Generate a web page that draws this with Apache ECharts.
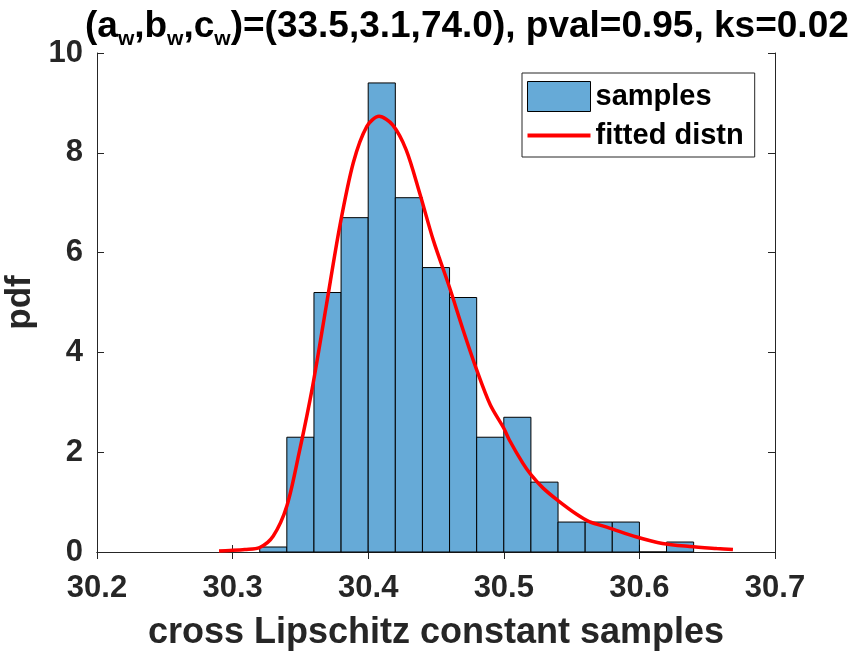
<!DOCTYPE html>
<html>
<head>
<meta charset="utf-8">
<script src="https://cdn.jsdelivr.net/npm/echarts@6/dist/echarts.min.js"></script>
<style>
html, body { margin: 0; padding: 0; background: #fff; }
#main { width: 850px; height: 653px; }
</style>
</head>
<body>
<div id="main"></div>
<script>
// histogram bins (edges) and pdf heights
var binEdges = [30.32, 30.34, 30.36, 30.38, 30.40, 30.42, 30.44, 30.46, 30.48,
	30.50, 30.52, 30.54, 30.56, 30.58, 30.60, 30.62, 30.64];
var binHeights = [0.1, 2.3, 5.2, 6.7, 9.4, 7.1, 5.7, 5.1, 2.3, 2.7, 1.4, 0.6, 0.6, 0.6, 0, 0.2];

// fitted curve
var fitX = [30.290, 30.298, 30.309, 30.320, 30.330, 30.340, 30.349, 30.359, 30.369, 30.379,
	30.389, 30.399, 30.408, 30.418, 30.428, 30.438, 30.448, 30.460, 30.470, 30.480,
	30.490, 30.500, 30.504, 30.514, 30.520, 30.529, 30.540, 30.554, 30.563, 30.578,
	30.598, 30.617, 30.637, 30.657, 30.669];
var fitY = [0.02, 0.03, 0.05, 0.09, 0.32, 0.92, 1.98, 3.32, 4.92, 6.52,
	7.80, 8.53, 8.73, 8.56, 8.06, 7.19, 6.25, 5.30, 4.45, 3.65,
	2.95, 2.48, 2.25, 1.78, 1.55, 1.28, 1.03, 0.75, 0.61, 0.48,
	0.30, 0.17, 0.11, 0.07, 0.05];

var titleText = '(a{s|w},b{s|w},c{s|w})=(33.5,3.1,74.0), pval=0.95, ks=0.02';
var xName = 'cross Lipschitz constant samples';
var yName = 'pdf';

var FONT = "'Liberation Sans', Arial, Helvetica, sans-serif";
var AX = '#262626';

var chart = echarts.init(document.getElementById('main'));

var bars = [];
for (var i = 0; i < binHeights.length; i++) {
	bars.push([binEdges[i], binEdges[i + 1], binHeights[i]]);
}
var curve = [];
for (var j = 0; j < fitX.length; j++) {
	curve.push([fitX[j], fitY[j]]);
}

var tickLabel = { fontSize: 31, fontWeight: 'bold', color: AX, fontFamily: FONT };

var option = {
	animation: false,
	backgroundColor: '#fff',
	title: {
		text: titleText,
		left: 80,
		top: 3,
		textStyle: {
			fontSize: 37,
			fontWeight: 'bold',
			color: '#000',
			fontFamily: FONT,
			rich: {
				s: { fontSize: 21, fontWeight: 'bold', color: '#000', fontFamily: FONT, verticalAlign: 'bottom', padding: [0, 0, -5, 0] }
			}
		}
	},
	legend: {
		orient: 'vertical',
		left: 522,
		top: 73,
		padding: [8, 11, 7, 5],
		itemGap: 9,
		itemWidth: 63,
		itemHeight: 30,
		borderColor: AX,
		borderWidth: 1,
		backgroundColor: '#fff',
		textStyle: { fontSize: 29, fontWeight: 'bold', color: '#000', fontFamily: FONT },
		data: [
			{ name: 'samples', icon: 'rect', itemStyle: { borderWidth: 1, borderColor: '#000' } },
			{ name: 'fitted distn', icon: 'path://M0,0H63V4H0Z', itemStyle: { color: '#ff0000' } }
		]
	},
	grid: { left: 97, right: 75, top: 53, bottom: 101, containLabel: false, outerBoundsMode: 'none' },
	xAxis: [{
		type: 'value',
		min: 30.2,
		max: 30.7,
		interval: 0.1,
		position: 'bottom',
		name: xName,
		nameLocation: 'middle',
		nameGap: 63,
		nameTextStyle: { fontSize: 36, fontWeight: 'bold', color: AX, fontFamily: FONT },
		axisLine: { show: true, lineStyle: { color: AX, width: 1 } },
		axisTick: { show: true, inside: true, length: 7, lineStyle: { color: AX } },
		axisLabel: Object.assign({ margin: 21, formatter: function (v) { return v.toFixed(1); } }, tickLabel),
		splitLine: { show: false }
	}, {
		type: 'value',
		min: 30.2,
		max: 30.7,
		interval: 0.1,
		position: 'top',
		axisLine: { show: true, lineStyle: { color: AX, width: 1 } },
		axisTick: { show: true, inside: true, length: 7, lineStyle: { color: AX } },
		axisLabel: { show: false },
		splitLine: { show: false }
	}],
	yAxis: [{
		type: 'value',
		min: 0,
		max: 10,
		interval: 2,
		position: 'left',
		name: yName,
		nameLocation: 'middle',
		nameGap: 54,
		nameTextStyle: { fontSize: 35, fontWeight: 'bold', color: AX, fontFamily: FONT },
		axisLine: { show: true, lineStyle: { color: AX, width: 1 } },
		axisTick: { show: true, inside: true, length: 7, lineStyle: { color: AX } },
		axisLabel: Object.assign({ margin: 14 }, tickLabel),
		splitLine: { show: false }
	}, {
		type: 'value',
		min: 0,
		max: 10,
		interval: 2,
		position: 'right',
		axisLine: { show: true, lineStyle: { color: AX, width: 1 } },
		axisTick: { show: true, inside: true, length: 7, lineStyle: { color: AX } },
		axisLabel: { show: false },
		splitLine: { show: false }
	}],
	series: [{
		name: 'samples',
		type: 'custom',
		xAxisIndex: 0,
		yAxisIndex: 0,
		itemStyle: { color: '#66aad7', borderColor: '#000', borderWidth: 1 },
		encode: { x: [0, 1], y: 2 },
		data: bars,
		renderItem: function (params, api) {
			var p0 = api.coord([api.value(0), 0]);
			var p1 = api.coord([api.value(1), api.value(2)]);
			return {
				type: 'rect',
				shape: { x: p0[0], y: p1[1], width: p1[0] - p0[0], height: p0[1] - p1[1] },
				style: { fill: '#66aad7', stroke: '#000', lineWidth: 1 }
			};
		},
		z: 1
	}, {
		name: 'fitted distn',
		type: 'line',
		xAxisIndex: 0,
		yAxisIndex: 0,
		data: curve,
		smooth: 0.3,
		symbol: 'none',
		lineStyle: { color: '#ff0000', width: 3.5 },
		itemStyle: { color: '#ff0000' },
		z: 3
	}]
};

chart.setOption(option);
</script>
</body>
</html>
